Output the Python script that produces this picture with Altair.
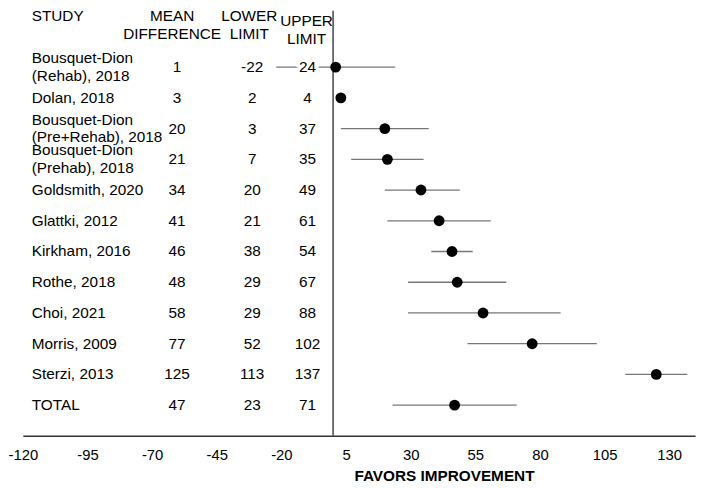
import altair as alt
import pandas as pd

studies = ["Bousquet-Dion\n(Rehab), 2018", "Dolan, 2018", "Bousquet-Dion\n(Pre+Rehab), 2018",
           "Bousquet-Dion\n(Prehab), 2018", "Goldsmith, 2020", "Glattki, 2012", "Kirkham, 2016",
           "Rothe, 2018", "Choi, 2021", "Morris, 2009", "Sterzi, 2013", "TOTAL"]
mean_diff = [1, 3, 20, 21, 34, 41, 46, 48, 58, 77, 125, 47]
lower_lim = [-22, 2, 3, 7, 20, 21, 38, 29, 29, 52, 113, 23]
upper_lim = [24, 4, 37, 35, 49, 61, 54, 67, 88, 102, 137, 71]
tick_values = [-120, -95, -70, -45, -20, 5, 30, 55, 80, 105, 130]

df = pd.DataFrame({
    "study": studies,
    "mean": mean_diff,
    "lower": lower_lim,
    "upper": upper_lim,
    "mean_t": [str(v) for v in mean_diff],
    "lower_t": [str(v) for v in lower_lim],
    "upper_t": [str(v) for v in upper_lim],
    "two": ["\n" in s for s in studies],
})

FONT = "Liberation Sans"
FS = 15.5

xscale = alt.Scale(domain=[-120, 140], nice=False, zero=False)
yscale = alt.Scale(type="point", domain=studies, range=[57, 399], padding=0)
Y = alt.Y("study:N", scale=yscale, axis=None)

base = alt.Chart(df)

x_axis = alt.Axis(orient="bottom", values=tick_values, ticks=False, tickSize=0, grid=False,
                  domainColor="#333333", domainWidth=1.5, labelFont=FONT, labelFontSize=15,
                  labelColor="black", labelPadding=12, labelFlush=False,
                  labelExpr="replace(datum.label, '\u2212', '-')",
                  title="FAVORS IMPROVEMENT", titleFont=FONT, titleFontSize=15.5,
                  titleFontWeight="bold", titleColor="black", titleX=426, titleY=40,
                  titleAlign="center", titleBaseline="middle")

zero_line = base.mark_rule(color="#444444", strokeWidth=1.5).encode(
    x=alt.X("z:Q", scale=xscale, axis=x_axis)
).transform_calculate(z="0").transform_filter("datum.study == 'TOTAL'")

err = base.mark_rule(color="#777777", strokeWidth=1.3).encode(
    x=alt.X("lower:Q", scale=xscale, axis=x_axis),
    x2="upper:Q",
    y=Y,
)

dots = base.mark_circle(color="black", opacity=1, size=120).encode(
    x=alt.X("mean:Q", scale=xscale, axis=x_axis),
    y=Y,
)

tprops = dict(font=FONT, fontSize=FS, baseline="middle", color="black")

study_one = base.mark_text(align="left", **tprops).encode(
    x=alt.value(9), y=Y, text="study:N").transform_filter("!datum.two")
study_two = base.mark_text(align="left", lineBreak="\n", lineHeight=18, dy=-9, **tprops).encode(
    x=alt.value(9), y=Y, text="study:N").transform_filter("datum.two")

mean_txt = base.mark_text(align="center", **tprops).encode(x=alt.value(156), y=Y, text="mean_t:N")
lower_txt = base.mark_text(align="center", **tprops).encode(x=alt.value(232), y=Y, text="lower_t:N")
upper_halo = base.mark_text(align="center", font=FONT, fontSize=FS, baseline="middle",
                            fill="white", stroke="white", strokeWidth=6).encode(
    x=alt.value(288), y=Y, text="upper_t:N")
upper_txt = base.mark_text(align="center", **tprops).encode(x=alt.value(288), y=Y, text="upper_t:N")

hdr = alt.Chart(pd.DataFrame({"h": [0]}))
hprops = dict(font=FONT, fontSize=FS, baseline="middle", lineBreak="\n", lineHeight=19, color="black")
headers = [
    hdr.mark_text(align="left", **hprops).encode(x=alt.value(9), y=alt.value(5), text=alt.value("STUDY")),
    hdr.mark_text(align="center", **hprops).encode(x=alt.value(151), y=alt.value(5), text=alt.value("MEAN\nDIFFERENCE")),
    hdr.mark_text(align="center", **hprops).encode(x=alt.value(229), y=alt.value(5), text=alt.value("LOWER\nLIMIT")),
    hdr.mark_text(align="center", **hprops).encode(x=alt.value(287), y=alt.value(10), text=alt.value("UPPER\nLIMIT")),
]

chart = alt.layer(zero_line, err, study_one, study_two, mean_txt, lower_txt, upper_halo,
                  dots, upper_txt, *headers).properties(
    width=680, height=430,
    autosize=alt.AutoSizeParams(type="none"),
    padding={"left": 15, "top": 0, "right": 5, "bottom": 50},
    background="white",
).configure_view(stroke=None)

chart.save("out.html", embed_options={"renderer": "svg", "actions": False})
